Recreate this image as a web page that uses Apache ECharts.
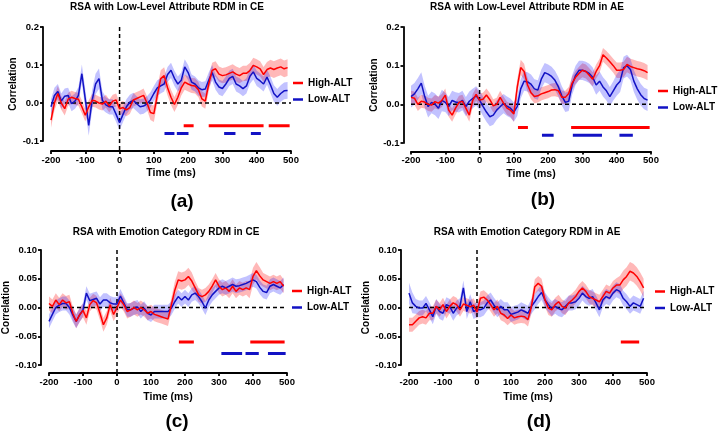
<!DOCTYPE html>
<html><head><meta charset="utf-8">
<script src="https://cdn.jsdelivr.net/npm/echarts@6/dist/echarts.min.js"></script>
<style>html,body{margin:0;padding:0;background:#fff}#c{width:720px;height:434px}</style>
</head><body><div id="c"></div>
<script>
// sample times (ms): -200 .. 490 step 10
const times = Array.from({length: 70}, (_, k) => -200 + 10 * k);
const xTicks = [-200, -100, 0, 100, 200, 300, 400, 500];

const titleA = 'RSA with Low-Level Attribute RDM in CE';
const titleB = 'RSA with Low-Level Attribute RDM in AE';
const titleC = 'RSA with Emotion Category RDM in CE';
const titleD = 'RSA with Emotion Category RDM in AE';
const seriesNames = ['High-ALT', 'Low-ALT'];

// ---- panel (a)
const aHigh = [-0.045,0.000,0.025,0.000,-0.015,0.010,0.015,0.012,0.010,-0.010,
 -0.032,-0.010,0.007,0.005,0.000,-0.003,0.005,-0.008,0.005,0.008,
 -0.015,-0.012,-0.018,-0.012,0.008,0.012,0.016,0.020,0.000,-0.025,
 -0.028,0.020,0.064,0.072,0.040,0.015,-0.004,0.015,0.040,0.055,
 0.050,0.046,0.045,0.035,0.011,0.005,0.050,0.086,0.090,0.076,
 0.072,0.074,0.078,0.082,0.076,0.072,0.078,0.078,0.085,0.099,
 0.095,0.090,0.075,0.088,0.092,0.088,0.092,0.095,0.090,0.093];
const aHighErr = [0.02,0.02,0.02,0.018,0.018,0.017,0.017,0.017,0.017,0.017,
 0.017,0.017,0.017,0.017,0.017,0.017,0.017,0.017,0.017,0.017,
 0.017,0.017,0.017,0.017,0.017,0.017,0.017,0.018,0.018,0.02,
 0.022,0.022,0.022,0.022,0.02,0.02,0.02,0.02,0.02,0.02,
 0.02,0.02,0.02,0.02,0.02,0.02,0.02,0.02,0.02,0.02,
 0.02,0.02,0.02,0.02,0.02,0.02,0.02,0.02,0.02,0.02,
 0.02,0.02,0.02,0.02,0.022,0.022,0.022,0.022,0.022,0.022];
const aLow = [-0.010,0.020,0.030,0.005,0.018,0.020,-0.002,0.005,0.020,0.077,
 0.010,-0.059,0.007,0.050,0.064,0.007,-0.005,-0.010,-0.010,-0.030,
 -0.052,-0.030,-0.010,0.002,0.007,-0.002,-0.010,-0.008,-0.002,0.008,
 0.025,0.040,0.045,0.050,0.075,0.086,0.065,0.050,0.060,0.095,
 0.080,0.055,0.050,0.040,0.035,0.037,0.060,0.080,0.055,0.042,
 0.038,0.050,0.065,0.070,0.050,0.045,0.038,0.045,0.070,0.082,
 0.065,0.058,0.050,0.068,0.048,0.025,0.015,0.025,0.032,0.033];
const aLowErr = [0.02,0.02,0.02,0.02,0.02,0.02,0.02,0.02,0.022,0.024,
 0.026,0.027,0.027,0.027,0.027,0.024,0.02,0.02,0.02,0.02,
 0.02,0.02,0.02,0.02,0.02,0.02,0.02,0.02,0.02,0.02,
 0.02,0.02,0.02,0.02,0.02,0.02,0.02,0.02,0.02,0.02,
 0.02,0.02,0.02,0.02,0.02,0.02,0.02,0.02,0.02,0.02,
 0.02,0.02,0.02,0.02,0.02,0.02,0.02,0.02,0.02,0.02,
 0.02,0.02,0.02,0.02,0.022,0.022,0.022,0.022,0.022,0.022];
const aSigHigh = [[187, 216], [260, 420], [435, 496]];
const aSigLow = [[131, 160], [167, 201], [305, 338], [383, 412]];

// ---- panel (b)
const bHigh = [0.018,0.016,0.000,0.008,0.006,0.000,-0.002,0.007,0.003,0.010,
 0.024,-0.015,-0.028,-0.010,0.005,0.008,-0.010,-0.028,0.010,0.026,
 0.011,0.013,0.024,0.012,-0.004,0.000,0.018,0.003,-0.010,-0.015,
 -0.025,0.045,0.095,0.085,0.050,0.030,0.020,0.022,0.027,0.030,
 0.033,0.037,0.038,0.035,0.018,0.018,0.028,0.055,0.070,0.080,
 0.088,0.085,0.075,0.065,0.085,0.100,0.128,0.120,0.110,0.100,
 0.088,0.088,0.090,0.103,0.098,0.095,0.092,0.090,0.087,0.082];
const bHighErr = [0.017,0.017,0.017,0.017,0.017,0.017,0.017,0.017,0.017,0.017,
 0.017,0.017,0.017,0.017,0.017,0.017,0.017,0.017,0.017,0.017,
 0.017,0.017,0.017,0.017,0.017,0.017,0.017,0.017,0.017,0.017,
 0.02,0.02,0.02,0.02,0.018,0.017,0.017,0.017,0.017,0.017,
 0.017,0.017,0.017,0.017,0.017,0.017,0.017,0.017,0.017,0.017,
 0.018,0.018,0.018,0.018,0.018,0.018,0.018,0.018,0.018,0.018,
 0.02,0.02,0.02,0.02,0.02,0.02,0.02,0.02,0.02,0.02];
const bLow = [0.020,0.027,0.040,0.055,0.020,-0.006,0.005,0.000,-0.010,0.010,
 0.005,-0.006,0.010,0.006,0.004,0.010,-0.006,0.008,0.015,0.022,
 0.011,-0.005,-0.020,-0.032,-0.028,-0.015,-0.006,0.002,-0.005,-0.010,
 -0.020,-0.005,0.040,0.060,0.058,0.052,0.040,0.037,0.065,0.082,
 0.078,0.072,0.062,0.045,0.022,0.005,0.008,0.050,0.075,0.088,
 0.088,0.085,0.080,0.070,0.050,0.060,0.045,0.035,0.020,0.035,
 0.050,0.060,0.095,0.100,0.090,0.060,0.040,0.025,0.015,0.011];
const bLowErr = [0.028,0.028,0.028,0.028,0.028,0.028,0.028,0.028,0.028,0.028,
 0.025,0.025,0.025,0.025,0.025,0.025,0.025,0.025,0.025,0.025,
 0.025,0.025,0.025,0.025,0.025,0.025,0.025,0.025,0.025,0.025,
 0.025,0.025,0.025,0.025,0.025,0.025,0.025,0.025,0.025,0.025,
 0.025,0.025,0.025,0.025,0.025,0.025,0.025,0.025,0.025,0.025,
 0.025,0.025,0.025,0.025,0.025,0.025,0.025,0.025,0.025,0.025,
 0.028,0.028,0.028,0.028,0.028,0.028,0.028,0.028,0.028,0.028];
const bSigHigh = [[112, 141], [267, 496]];
const bSigLow = [[182, 216], [272, 357], [408, 447]];

// ---- panel (c)
const cHigh = [0.007,0.002,0.013,0.005,0.013,0.008,0.010,-0.010,-0.024,-0.013,
 -0.005,-0.018,0.005,0.012,0.008,-0.010,-0.030,-0.018,0.005,-0.012,
 0.000,0.013,0.005,-0.007,-0.004,0.000,-0.004,0.000,-0.004,-0.010,
 -0.007,-0.012,-0.014,-0.016,-0.018,-0.020,0.005,0.030,0.048,0.046,
 0.048,0.054,0.046,0.034,0.022,0.019,0.022,0.028,0.037,0.048,
 0.037,0.031,0.034,0.028,0.037,0.028,0.034,0.031,0.034,0.031,
 0.054,0.064,0.055,0.048,0.045,0.042,0.045,0.042,0.045,0.037];
const cHighErr = [0.012,0.012,0.012,0.012,0.012,0.012,0.012,0.012,0.012,0.012,
 0.012,0.012,0.012,0.012,0.012,0.012,0.012,0.012,0.012,0.012,
 0.012,0.012,0.012,0.012,0.012,0.012,0.012,0.012,0.012,0.012,
 0.012,0.012,0.012,0.012,0.012,0.012,0.012,0.015,0.015,0.015,
 0.015,0.015,0.015,0.012,0.012,0.012,0.012,0.012,0.012,0.012,
 0.012,0.012,0.012,0.012,0.012,0.012,0.012,0.012,0.012,0.015,
 0.015,0.015,0.015,0.012,0.012,0.012,0.012,0.012,0.012,0.012];
const cLow = [-0.024,-0.012,0.000,0.004,0.007,0.007,0.000,-0.013,-0.024,-0.013,
 -0.004,0.025,0.012,0.014,0.016,0.006,0.013,0.013,0.008,0.006,
 0.006,0.020,0.008,-0.004,-0.004,-0.001,0.001,-0.007,-0.001,-0.010,
 -0.013,-0.007,-0.007,-0.007,-0.007,-0.007,-0.001,0.010,0.019,0.013,
 0.019,0.013,0.022,0.025,0.019,0.010,-0.001,0.013,0.022,0.028,
 0.034,0.037,0.034,0.037,0.040,0.037,0.038,0.040,0.042,0.045,
 0.048,0.045,0.035,0.028,0.026,0.037,0.040,0.037,0.034,0.040];
const cLowErr = [0.012,0.012,0.012,0.012,0.012,0.012,0.012,0.012,0.012,0.012,
 0.012,0.012,0.012,0.012,0.012,0.012,0.012,0.012,0.012,0.012,
 0.012,0.012,0.012,0.012,0.012,0.012,0.012,0.012,0.012,0.012,
 0.012,0.012,0.012,0.012,0.012,0.012,0.012,0.012,0.012,0.012,
 0.012,0.012,0.012,0.012,0.012,0.012,0.012,0.012,0.012,0.012,
 0.012,0.012,0.012,0.012,0.012,0.012,0.012,0.012,0.012,0.012,
 0.012,0.012,0.012,0.012,0.012,0.012,0.012,0.012,0.012,0.012];
const cSigHigh = [[182, 226], [392, 493]];
const cSigLow = [[307, 368], [378, 417], [444, 496]];

// ---- panel (d)
const dHigh = [-0.030,-0.030,-0.024,-0.018,-0.016,-0.018,-0.010,-0.010,0.002,-0.004,
 0.005,-0.007,0.002,0.008,0.005,-0.004,0.006,0.004,0.001,0.004,
 -0.008,0.016,0.018,0.013,0.005,-0.004,0.002,-0.010,-0.013,-0.019,
 -0.013,-0.018,-0.016,-0.015,-0.016,-0.021,0.002,0.036,0.042,0.037,
 0.013,-0.001,-0.004,0.005,0.010,0.002,-0.001,0.008,0.013,0.019,
 0.028,0.034,0.028,0.019,0.016,0.013,0.010,0.019,0.028,0.025,
 0.034,0.039,0.039,0.048,0.054,0.063,0.060,0.054,0.045,0.034];
const dHighErr = [0.012,0.012,0.012,0.012,0.012,0.012,0.012,0.012,0.012,0.012,
 0.012,0.012,0.012,0.012,0.012,0.012,0.012,0.012,0.012,0.012,
 0.012,0.012,0.012,0.012,0.012,0.012,0.012,0.012,0.012,0.012,
 0.012,0.012,0.012,0.012,0.012,0.012,0.013,0.013,0.013,0.013,
 0.012,0.012,0.012,0.012,0.012,0.012,0.012,0.012,0.012,0.012,
 0.012,0.012,0.012,0.012,0.012,0.012,0.012,0.012,0.012,0.012,
 0.012,0.012,0.016,0.016,0.016,0.016,0.016,0.016,0.016,0.016];
const dLow = [0.025,0.008,0.002,-0.001,-0.001,0.007,-0.004,-0.016,0.002,-0.007,
 -0.010,0.005,0.002,-0.010,-0.001,0.003,0.034,-0.007,0.010,-0.007,
 -0.004,-0.004,-0.001,0.008,0.013,0.004,-0.004,0.002,-0.004,-0.004,
 -0.012,-0.010,-0.008,-0.004,-0.007,-0.010,0.002,0.010,0.019,0.026,
 0.013,0.005,-0.002,0.002,-0.002,-0.004,0.002,0.008,0.008,0.010,
 0.016,0.025,0.019,0.016,0.019,0.008,-0.004,0.013,0.019,0.016,
 0.025,0.031,0.028,0.016,0.010,0.002,0.008,0.005,0.002,0.016];
const dLowErr = [0.018,0.018,0.013,0.013,0.013,0.013,0.013,0.013,0.013,0.013,
 0.013,0.013,0.013,0.013,0.013,0.013,0.013,0.013,0.013,0.013,
 0.013,0.013,0.013,0.013,0.013,0.013,0.013,0.013,0.013,0.013,
 0.013,0.013,0.013,0.013,0.013,0.013,0.013,0.013,0.013,0.013,
 0.013,0.013,0.013,0.013,0.013,0.013,0.013,0.013,0.013,0.013,
 0.013,0.013,0.013,0.013,0.013,0.013,0.013,0.013,0.013,0.013,
 0.013,0.013,0.013,0.013,0.013,0.013,0.013,0.013,0.013,0.013];
const dSigHigh = [[423, 477]];
const dSigLow = [];

// significance-bar levels
const sigHighLevel = -0.06;
const sigLowLevel = -0.08;

const FONT = '"Liberation Sans", Arial, Helvetica, sans-serif';
const RED = '#ff0000', BLUE = '#1212c4';
const RED_BAND = 'rgba(255,0,0,0.28)', BLUE_BAND = 'rgba(20,20,255,0.26)';

const panels = [
  {title: titleA, letter: '(a)', high: aHigh, highErr: aHighErr, low: aLow, lowErr: aLowErr, sigH: aSigHigh, sigL: aSigLow,
   grid: {left: 51, top: 27, width: 240, height: 114}, yMin: -0.1, yMax: 0.2, yInt: 0.1, dec: 1,
   xOff: 10, yOff: 8, xGap: 17, yGap: 21, titleAt: [167, 7], letterAt: [182, 202], legendAt: [293, 78]},
  {title: titleB, letter: '(b)', high: bHigh, highErr: bHighErr, low: bLow, lowErr: bLowErr, sigH: bSigHigh, sigL: bSigLow,
   grid: {left: 411, top: 27, width: 240, height: 116}, yMin: -0.1, yMax: 0.2, yInt: 0.1, dec: 1,
   xOff: 8.5, yOff: 7.5, xGap: 17, yGap: 21, titleAt: [527, 7], letterAt: [543, 200], legendAt: [658, 86]},
  {title: titleC, letter: '(c)', high: cHigh, highErr: cHighErr, low: cLow, lowErr: cLowErr, sigH: cSigHigh, sigL: cSigLow,
   grid: {left: 49, top: 250, width: 238, height: 115}, yMin: -0.1, yMax: 0.1, yInt: 0.05, dec: 2,
   xOff: 8, yOff: 8, xGap: 19, yGap: 23, titleAt: [166, 232], letterAt: [177, 422], legendAt: [292, 286]},
  {title: titleD, letter: '(d)', high: dHigh, highErr: dHighErr, low: dLow, lowErr: dLowErr, sigH: dSigHigh, sigL: dSigLow,
   grid: {left: 409, top: 250, width: 238, height: 115}, yMin: -0.1, yMax: 0.1, yInt: 0.05, dec: 2,
   xOff: 8, yOff: 8, xGap: 19, yGap: 23, titleAt: [527, 232], letterAt: [539, 422], legendAt: [655, 286.5]}
];

const grids = [], xAxes = [], yAxes = [], series = [], legends = [], graphics = [];
const axisLineStyle = {color: '#000', width: 1.8};
const boldText = {color: '#000', fontWeight: 'bold', fontFamily: FONT};

panels.forEach((p, i) => {
  grids.push(Object.assign({containLabel: false}, p.grid));
  xAxes.push({
    gridIndex: i, type: 'value', min: xTicks[0], max: xTicks[xTicks.length - 1], interval: 100,
    offset: p.xOff, name: 'Time (ms)', nameLocation: 'middle', nameGap: p.xGap,
    nameTextStyle: Object.assign({fontSize: 10.5}, boldText),
    axisLine: {onZero: false, lineStyle: axisLineStyle},
    axisTick: {length: 3, lineStyle: axisLineStyle},
    axisLabel: Object.assign({fontSize: 9.5, margin: 4}, boldText),
    splitLine: {show: false}
  });
  yAxes.push({
    gridIndex: i, type: 'value', min: p.yMin, max: p.yMax, interval: p.yInt,
    offset: p.yOff, name: 'Correlation', nameLocation: 'middle', nameGap: p.yGap,
    nameTextStyle: Object.assign({fontSize: 10}, boldText),
    axisLine: {onZero: false, lineStyle: axisLineStyle},
    axisTick: {length: 3, lineStyle: axisLineStyle},
    axisLabel: Object.assign({fontSize: 9.5, margin: 4,
      formatter: v => (Math.abs(v) < 1e-9 ? 0 : v).toFixed(p.dec)}, boldText),
    splitLine: {show: false}
  });
  const common = {xAxisIndex: i, yAxisIndex: i, symbol: 'none', silent: true, animation: false};
  // shaded error band: one polygon through the axis scales
  const band = (vals, errs, color, id) => ({
    type: 'custom', name: id, xAxisIndex: i, yAxisIndex: i, silent: true, z: 1, animation: false,
    data: times.map((t, k) => [t, vals[k] - errs[k], vals[k] + errs[k]]),
    encode: {x: 0, y: [1, 2]},
    renderItem: (params, api) => {
      if (params.dataIndex !== 0) return null;
      const pts = [];
      for (let k = 0; k < times.length; k++) pts.push(api.coord([times[k], vals[k] + errs[k]]));
      for (let k = times.length - 1; k >= 0; k--) pts.push(api.coord([times[k], vals[k] - errs[k]]));
      return {type: 'polygon', shape: {points: pts}, style: {fill: color}};
    }
  });
  series.push(band(p.high, p.highErr, RED_BAND, 'hBand' + i));
  series.push(band(p.low, p.lowErr, BLUE_BAND, 'lBand' + i));
  // zero line & stimulus-onset line
  series.push(Object.assign({type: 'line', name: 'zero' + i, z: 2,
    data: [[xTicks[0], 0], [xTicks[xTicks.length - 1], 0]],
    lineStyle: {color: '#000', width: 1.5, type: [4, 3]}}, common));
  const pxPerUnit = p.grid.height / (p.yMax - p.yMin);
  series.push(Object.assign({type: 'line', name: 'onset' + i, z: 2, clip: false,
    data: [[0, p.yMax], [0, p.yMin - p.xOff / pxPerUnit]],
    lineStyle: {color: '#000', width: 1.5, type: [4, 3]}}, common));
  // mean lines
  series.push(Object.assign({type: 'line', name: seriesNames[1], z: 3, color: BLUE,
    data: times.map((t, k) => [t, p.low[k]]), lineStyle: {color: BLUE, width: 1.5}}, common));
  series.push(Object.assign({type: 'line', name: seriesNames[0], z: 4, color: RED,
    data: times.map((t, k) => [t, p.high[k]]), lineStyle: {color: RED, width: 1.5}}, common));
  // significance bars
  p.sigH.forEach((s, j) => series.push(Object.assign({type: 'line', name: 'sh' + i + '_' + j, z: 3,
    data: [[s[0], sigHighLevel], [s[1], sigHighLevel]], lineStyle: {color: RED, width: 3, cap: 'butt'}}, common)));
  p.sigL.forEach((s, j) => series.push(Object.assign({type: 'line', name: 'sl' + i + '_' + j, z: 3,
    data: [[s[0], sigLowLevel], [s[1], sigLowLevel]], lineStyle: {color: BLUE, width: 3, cap: 'butt'}}, common)));
  legends.push({
    orient: 'vertical', left: p.legendAt[0], top: p.legendAt[1], padding: 0, itemGap: 6.5,
    data: seriesNames, icon: 'rect', itemWidth: 10, itemHeight: 2.5, selectedMode: false,
    textStyle: Object.assign({fontSize: 10}, boldText)
  });
  graphics.push({type: 'text', x: p.titleAt[0], y: p.titleAt[1],
    style: {text: p.title, textAlign: 'center', textVerticalAlign: 'middle',
      font: 'bold 10px ' + FONT, fill: '#000'}});
  graphics.push({type: 'text', x: p.letterAt[0], y: p.letterAt[1],
    style: {text: p.letter, textAlign: 'center', textVerticalAlign: 'middle',
      font: 'bold 19px ' + FONT, fill: '#000'}});
});

const chart = echarts.init(document.getElementById('c'), null, {renderer: 'canvas'});
chart.setOption({
  animation: false,
  backgroundColor: '#fff',
  grid: grids, xAxis: xAxes, yAxis: yAxes, series: series, legend: legends, graphic: graphics
});
</script>
</body></html>
